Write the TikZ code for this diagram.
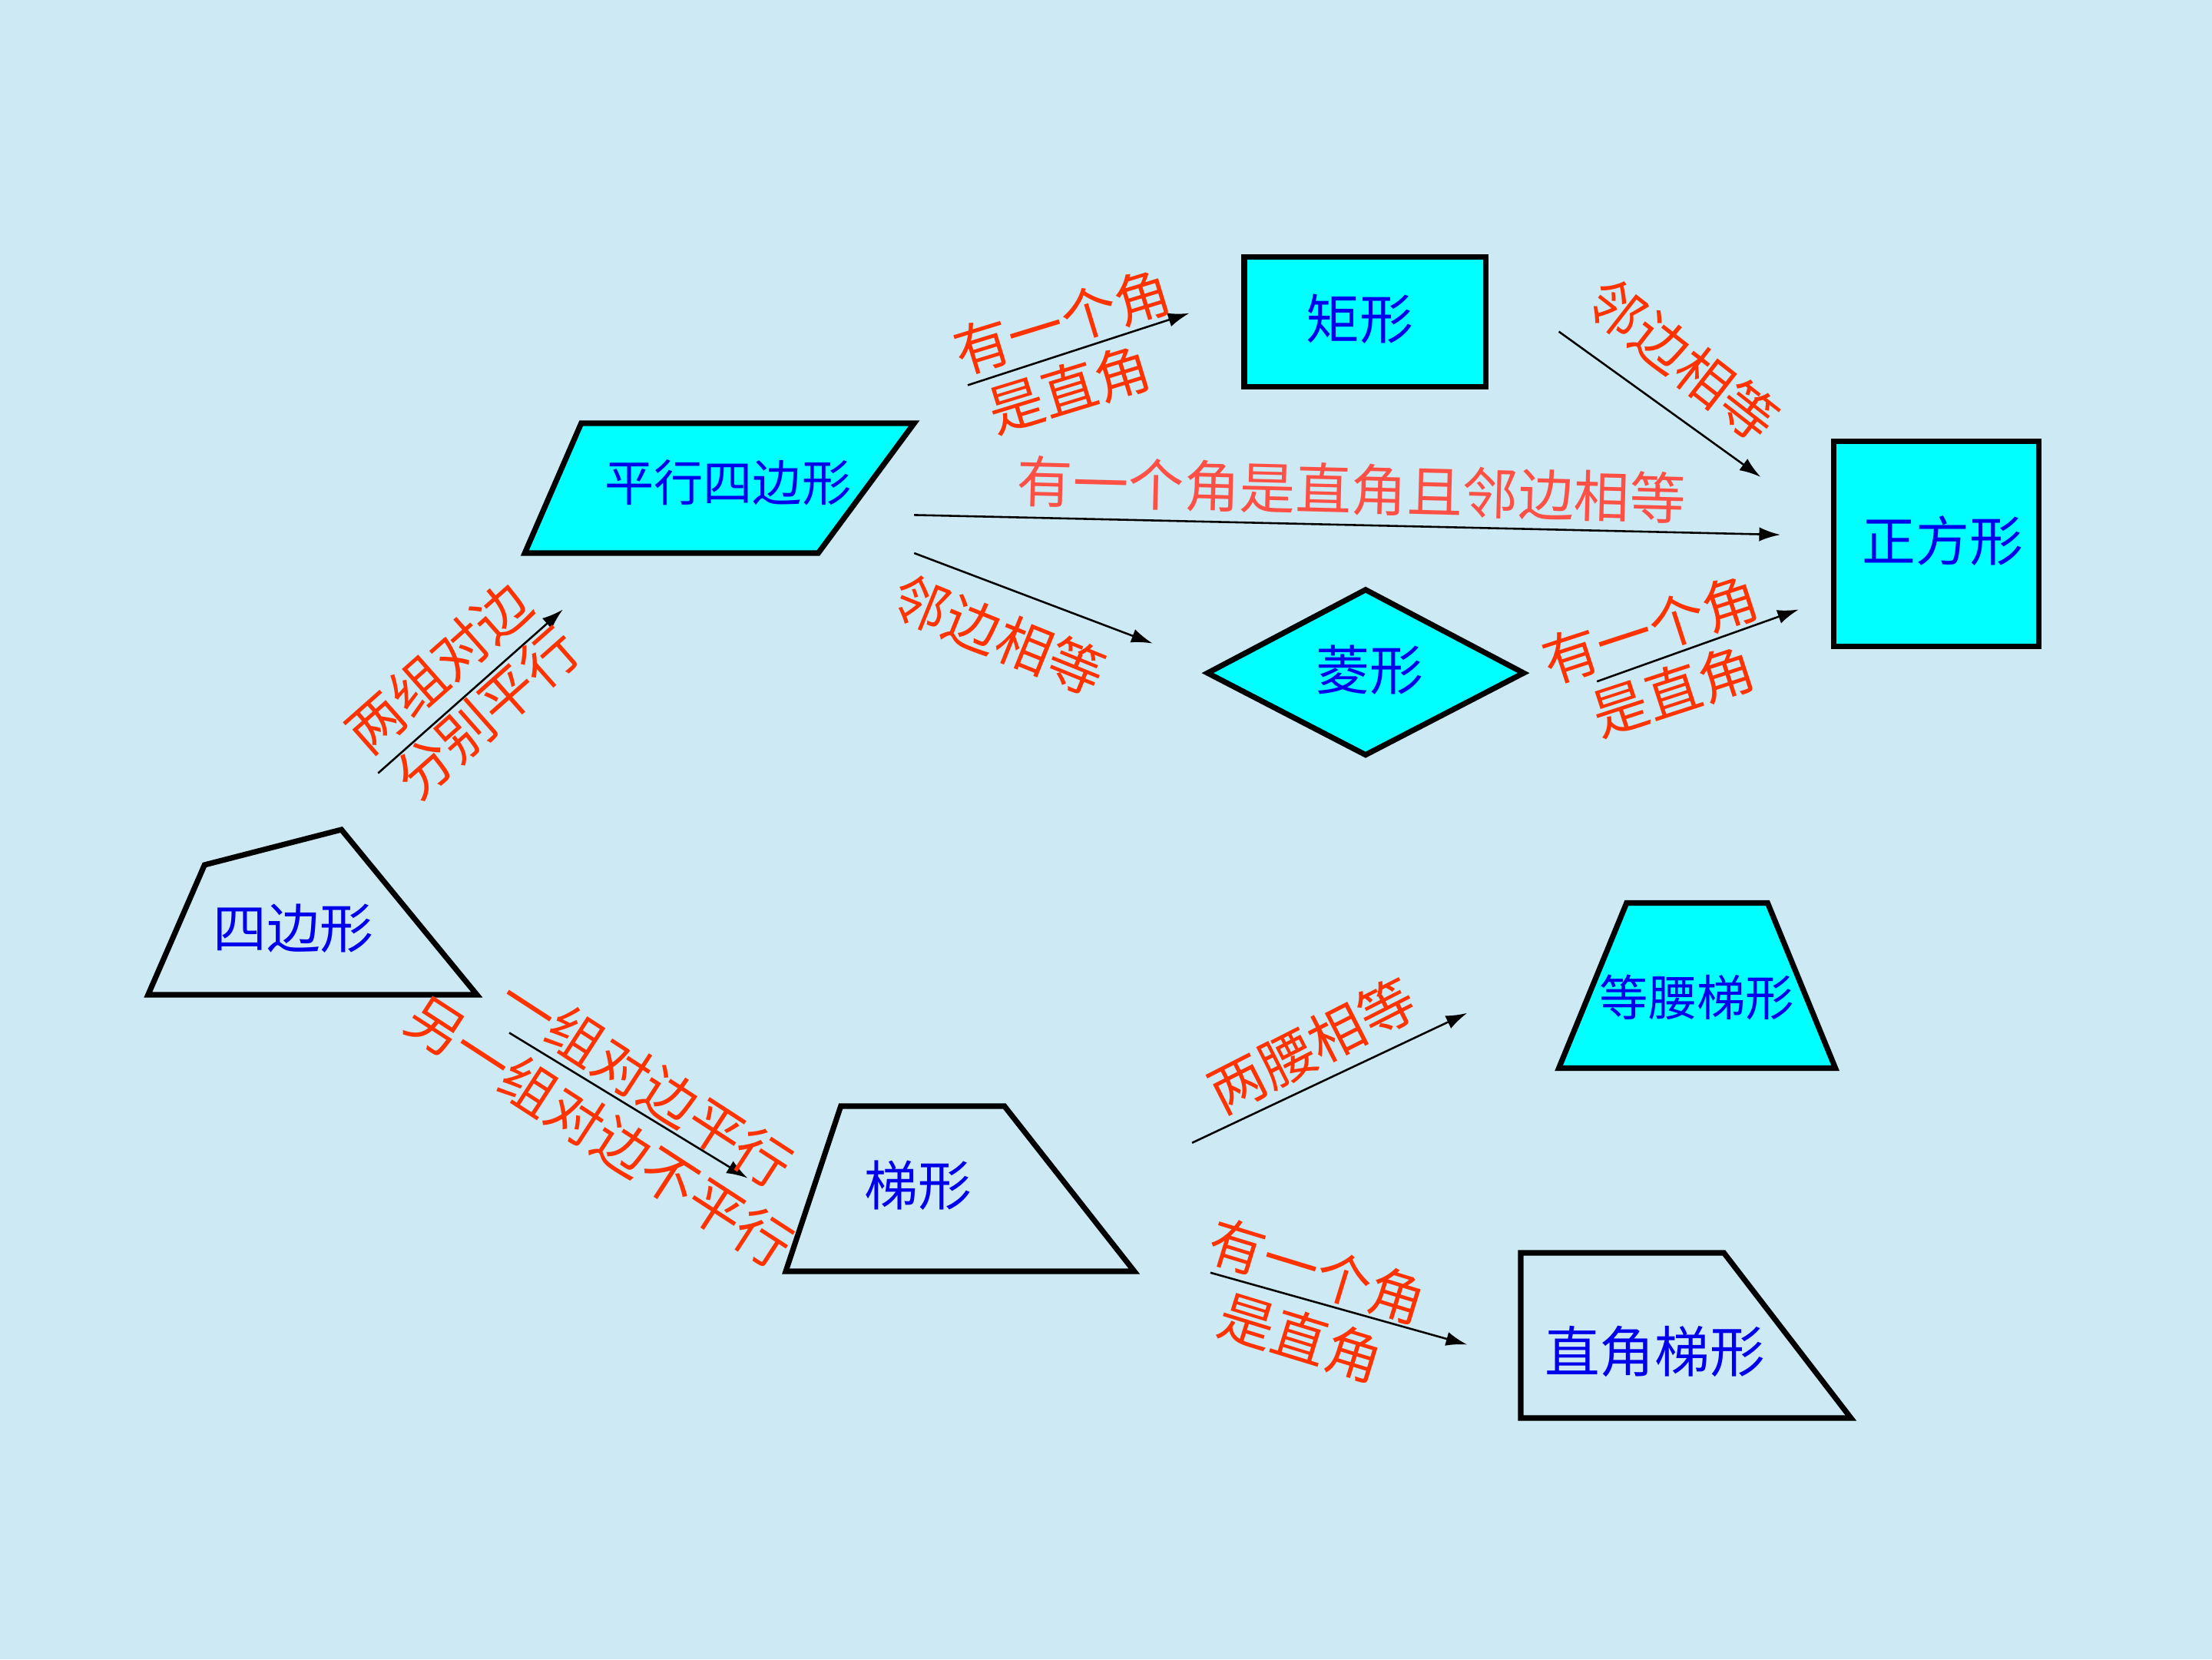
\documentclass[tikz,border=0pt]{standalone}
\usepackage{fontspec}
\setmainfont{Noto Sans CJK SC}
\usetikzlibrary{arrows.meta}
\definecolor{bgblue}{RGB}{205,233,243}
\definecolor{shapefill}{RGB}{0,255,255}
\definecolor{nodeblue}{RGB}{0,0,235}
\definecolor{labelred}{RGB}{255,51,0}
\definecolor{labellight}{RGB}{255,80,70}
\tikzset{
  outline/.style={draw=black,line width=3.9pt,line join=miter},
  filled/.style={outline,fill=shapefill},
  ntext/.style={text=nodeblue,font=\fontsize{38}{42}\selectfont,inner sep=0pt},
  lbl/.style={text=labelred,font=\fontsize{39.5}{43}\selectfont,inner sep=0pt},
  conn/.style={draw=black,line width=1.4pt,-{Latex[length=15pt,width=10pt]}}
}
\begin{document}
\begin{tikzpicture}[x=1pt,y=-1pt]
\fill[bgblue] (0,0) rectangle (1568,1176);
\useasboundingbox (0,0) rectangle (1568,1176);

% shapes
\draw[outline] (105,705) -- (145,613) -- (242,588) -- (338,705) -- cycle;
\node[ntext] (quad) at (208,658) {四边形};

\draw[filled] (372,392) -- (412,300) -- (648,300) -- (580,392) -- cycle;
\node[ntext,font=\fontsize{35}{39}\selectfont] (para) at (516,342) {平行四边形};

\draw[filled] (882,182) rectangle (1053,274);
\node[ntext] (rect) at (964,226) {矩形};

\draw[filled] (1300,313) rectangle (1445,458);
\node[ntext] (square) at (1377,383) {正方形};

\draw[filled] (856,477) -- (968,418) -- (1080,477) -- (968,535) -- cycle;
\node[ntext] (rhombus) at (971,475) {菱形};

\draw[outline] (557,901) -- (596,784) -- (712,784) -- (804,901) -- cycle;
\node[ntext] (trap) at (651,840) {梯形};

\draw[filled] (1105,757) -- (1153,640) -- (1253,640) -- (1301,757) -- cycle;
\node[ntext,font=\fontsize{34.5}{38}\selectfont] (isotrap) at (1203,707) {等腰梯形};

\draw[outline] (1078,1005) -- (1078,888) -- (1222,888) -- (1312,1005) -- cycle;
\node[ntext,font=\fontsize{39}{43}\selectfont] (righttrap) at (1173,958) {直角梯形};

% connector end points
\coordinate (a1s) at (268,548);  \coordinate (a1e) at (399,432);
\coordinate (a2s) at (686,273);  \coordinate (a2e) at (843,222);
\coordinate (a3s) at (1105,235); \coordinate (a3e) at (1248,338);
\coordinate (a4s) at (648,365);  \coordinate (a4e) at (1262,379);
\coordinate (a5s) at (648,392);  \coordinate (a5e) at (817,456);
\coordinate (a6s) at (1132,483); \coordinate (a6e) at (1275,432);
\coordinate (a7s) at (361,732);  \coordinate (a7e) at (530,835);
\coordinate (a8s) at (845,810);  \coordinate (a8e) at (1040,718);
\coordinate (a9s) at (858,902);  \coordinate (a9e) at (1040,953);

\draw[conn] (a1s) -- (a1e);
\draw[conn] (a2s) -- (a2e);
\draw[conn] (a3s) -- (a3e);
\draw[conn] (a4s) -- (a4e);
\draw[conn] (a5s) -- (a5e);
\draw[conn] (a6s) -- (a6e);
\draw[conn] (a7s) -- (a7e);
\draw[conn] (a8s) -- (a8e);
\draw[conn] (a9s) -- (a9e);

% labels
\node[lbl,rotate=41.5] (l1a) at (311,473) {两组对边};
\node[lbl,rotate=41.5] (l1b) at (345,505) {分别平行};
\node[lbl,rotate=17] (l2a) at (753,228) {有一个角};
\node[lbl,rotate=17] (l2b) at (758,276) {是直角};
\node[lbl,rotate=-38] (l3) at (1193,255) {邻边相等};
\node[lbl,text=labellight,rotate=-1.5] (l4) at (958,347) {有一个角是直角且邻边相等};
\node[lbl,rotate=-22] (l5) at (708,450) {邻边相等};
\node[lbl,rotate=18] (l6a) at (1170,446) {有一个角};
\node[lbl,rotate=18] (l6b) at (1186,490) {是直角};
\node[lbl,rotate=-33] (l7a) at (458,767) {一组对边平行};
\node[lbl,rotate=-33] (l7b) at (425,802) {另一组对边不平行};
\node[lbl,rotate=27] (l8) at (930,741) {两腰相等};
\node[lbl,rotate=-17] (l9a) at (934,901) {有一个角};
\node[lbl,rotate=-17] (l9b) at (922,948) {是直角};
\end{tikzpicture}
\end{document}
